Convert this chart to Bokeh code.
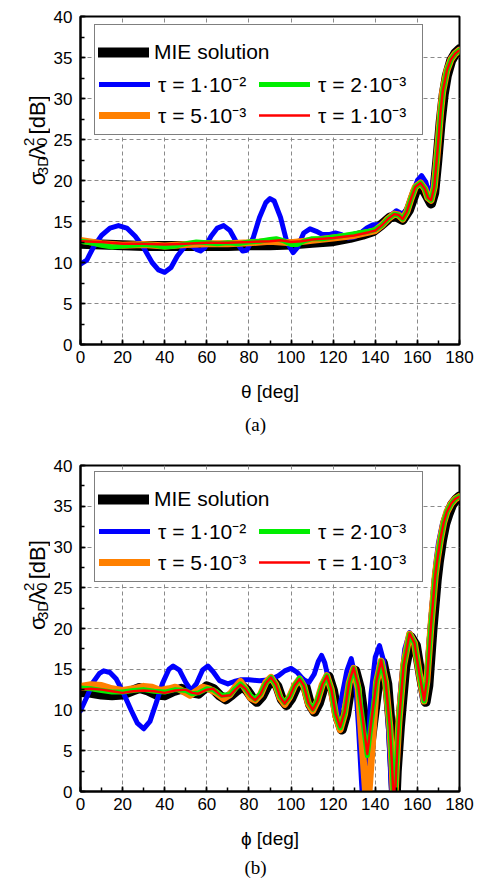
import math
from bokeh.plotting import figure
from bokeh.models import Range1d, SingleIntervalTicker, Legend, LegendItem, Label
from bokeh.layouts import column, row
from bokeh.embed import file_html
from bokeh.resources import INLINE

SANS = "Liberation Sans"
SERIF = "Liberation Serif"

# ---------------- data: (a) theta cut ----------------
a_theta_mie = [0, 10, 20, 30, 40, 50, 60, 70, 80, 90, 100, 110, 120, 128, 134, 139, 143, 147, 150, 153, 156, 159,
               161.5, 164, 166.5, 168, 169.5, 171, 172.5, 174, 176, 178, 180]
a_mie = [12.3, 12.2, 12.1, 12.0, 12.0, 12.0, 12.0, 12.0, 12.1, 12.1, 12.2, 12.4, 12.6, 13.0, 13.4, 13.8, 14.6, 15.5,
         15.6, 15.2, 16.4, 18.6, 19.4, 18.4, 17.2, 18.5, 22.5, 27.0, 30.5, 32.8, 34.6, 35.5, 36.0]

a_theta_blue = [0, 3, 6, 10, 14, 18, 22, 26, 30, 34, 37, 40, 43, 46, 50, 53, 55, 57, 59, 62, 65, 68, 71, 74, 77, 79,
                82, 85, 88, 90, 92, 95, 98, 101, 103, 106, 109, 112, 115, 118, 121, 124, 127, 130, 133, 136, 139, 142,
                145, 148, 150, 153, 156, 158, 160, 162, 164, 166, 168, 170, 172, 174, 176, 178, 180]
a_blue = [9.8, 10.3, 11.8, 13.3, 14.2, 14.5, 14.2, 13.2, 11.8, 10.0, 9.1, 8.8, 9.4, 10.8, 12.1, 12.0, 11.6, 11.4,
          11.8, 13.2, 14.2, 14.5, 13.9, 12.5, 11.4, 11.5, 13.0, 15.5, 17.3, 17.8, 17.5, 15.5, 12.5, 11.2, 11.8, 13.6,
          14.1, 13.8, 13.4, 13.4, 13.6, 13.4, 13.0, 13.1, 13.6, 14.2, 14.6, 14.6, 15.0, 15.9, 16.3, 15.9, 16.8, 18.6,
          20.0, 20.6, 19.8, 18.0, 20.5, 25.5, 30.5, 33.5, 35.0, 35.6, 36.0]

a_theta_green = [0, 5, 10, 15, 20, 25, 30, 35, 40, 45, 50, 55, 60, 65, 70, 75, 80, 85, 90, 93, 96, 100, 103, 106,
                 110, 115, 120, 125, 130, 137, 140, 143, 146, 149, 151, 153, 155, 157, 159, 161.5, 163.5, 165, 166.5,
                 168, 169, 170, 171, 172, 174, 176, 178, 180]
a_green = [12.6, 12.4, 12.1, 11.9, 12.0, 12.1, 12.2, 12.1, 11.9, 12.0, 12.3, 12.5, 12.4, 12.3, 12.4, 12.3, 12.5,
           12.6, 12.8, 12.9, 12.7, 12.2, 12.2, 12.6, 12.9, 12.9, 13.1, 13.3, 13.5, 13.8, 14.0, 14.5, 15.3, 15.9, 15.8,
           15.3, 16.2, 17.8, 19.2, 19.7, 19.0, 17.9, 17.6, 19.2, 22.0, 25.0, 28.3, 30.8, 33.4, 34.8, 35.5, 35.9]

a_theta_orange = [0, 10, 20, 30, 40, 50, 60, 70, 80, 90, 100, 110, 120, 130, 137, 140, 143, 146, 149, 151, 153, 155,
                  157, 159, 161.5, 163.5, 165, 166.5, 168, 169, 170, 171, 172, 174, 176, 178, 180]
a_orange = [12.7, 12.3, 12.1, 12.2, 12.0, 12.2, 12.3, 12.3, 12.4, 12.6, 12.4, 12.7, 13.0, 13.3, 13.7, 13.9, 14.5,
            15.3, 15.9, 15.8, 15.3, 16.2, 17.8, 19.2, 19.7, 19.0, 17.9, 17.6, 19.2, 22.0, 25.0, 28.3, 30.8, 33.4,
            34.8, 35.5, 35.9]

a_theta_red = [0, 10, 20, 30, 40, 50, 60, 70, 80, 90, 95, 100, 105, 110, 120, 130, 137, 140, 143, 146, 149, 151, 153,
               155, 157, 159, 161.5, 163.5, 165, 166.5, 168, 169, 170, 171, 172, 174, 176, 178, 180]
a_red = [12.6, 12.5, 12.3, 12.3, 12.2, 12.3, 12.4, 12.4, 12.5, 12.6, 12.7, 12.5, 12.6, 12.8, 13.0, 13.3, 13.7, 13.9,
         14.5, 15.3, 15.9, 15.8, 15.3, 16.2, 17.8, 19.2, 19.7, 19.0, 17.9, 17.6, 19.2, 22.0, 25.0, 28.3, 30.8, 33.4,
         34.8, 35.5, 35.9]

# ---------------- data: (b) phi cut ----------------
b_phi_mie = [0, 5, 10, 15, 20, 25, 28, 32, 36, 40, 44, 48, 52, 56, 60, 63, 66, 69, 72,
             74.3, 76.8, 79.1, 81.5, 83.8, 86.3, 88.8, 91.3, 93.5, 95.6,
             97.8, 100.1, 102.5, 104.8, 106.9, 109, 111.1, 113.3, 115.6, 117.8,
             119.9, 122, 124.1, 126.2, 128.4, 130.5, 132.7, 134.8, 137, 139.2,
             141.4, 143.6, 145.7, 147.5, 148.5, 149.3, 150.2, 151.7, 154.2, 157,
             159.3, 161.6, 163.9, 165.2, 166.2, 167.2, 168.2, 169.2, 170.2, 171.7,
             173.2, 174.7, 176.5, 178.3, 180]
b_mie = [12.2, 12.1, 11.9, 11.8, 11.9, 12.4, 12.7, 12.4, 11.9, 11.8, 12.3, 12.6, 12.2, 12.0, 12.9, 12.6, 11.8, 11.3,
         11.9,
         12.4, 12.9, 12.4, 11.5, 11.0, 11.7, 13.0, 13.6, 12.9, 11.3,
         10.6, 11.4, 12.8, 13.6, 12.8, 10.7, 9.8, 10.9, 12.9, 14.1,
         12.4, 9.3, 7.6, 9.5, 13.1, 14.8, 12.7, 8.7, 4.3, 8.9,
         13.3, 15.8, 13.2, 7.5, 2.5, -3.0, 2.5, 8.0, 15.2, 18.9,
         17.9, 14.2, 11.0, 13.0, 16.5, 20.0, 23.0, 26.0, 28.2, 30.8,
         32.8, 34.0, 35.2, 35.8, 36.2]

b_phi_blue = [0, 3, 6, 9, 11, 14, 17, 20, 24, 27, 30, 33, 36, 39, 42, 44, 47, 50, 52.5, 55, 58, 60.5, 63, 66, 70, 73,
              76, 80, 85, 90, 94, 97, 100, 103, 106, 108.5, 111, 113, 114.5, 116, 118, 120, 122, 124, 126.5, 128.6,
              130.5, 132, 133.5, 134.5, 136, 138, 140, 142, 144, 146, 147.5, 148.5, 150, 152, 154, 156.3, 158.5,
              160.5, 162.5, 164, 165, 166, 167, 168, 169, 170, 172, 174, 176, 178, 180]
b_blue = [9.9, 11.6, 13.4, 14.5, 14.8, 14.6, 13.8, 12.3, 10.0, 8.4, 7.7, 8.6, 10.9, 13.3, 15.0, 15.4, 14.9, 13.4,
          12.4, 13.2, 14.9, 15.4, 14.7, 13.6, 13.2, 13.5, 13.7, 13.7, 13.6, 13.7, 14.2, 14.8, 15.1, 14.6, 13.7, 13.4,
          14.4, 16.0, 16.7, 15.8, 13.5, 11.0, 9.2, 11.5, 14.8, 16.3, 14.0, 8.0, 1.0, -3.0, 3.0, 12.0, 16.5, 17.9,
          16.0, 9.0, 1.0, -3.0, 4.0, 12.5, 17.5, 19.5, 18.5, 15.5, 11.2, 13.5, 16.5, 20.0, 23.0, 26.0, 28.5, 30.5,
          33.0, 34.5, 35.4, 35.9, 36.2]

b_phi_red = [0, 5, 10, 15, 20, 25, 30, 35, 40, 45, 50, 53, 56, 60, 63, 67, 71,
             73.5, 76, 78.3, 80.7, 83, 85.5, 88, 90.5, 92.7, 94.8,
             97, 99.3, 101.7, 104, 106.1, 108.2, 110.3, 112.5, 114.8, 117,
             119.1, 121.2, 123.3, 125.4, 127.6, 129.7, 131.9, 134, 136.2, 138.4,
             140.6, 142.8, 144.9, 146.9, 148, 149, 150, 151.2, 153.5, 156.3,
             158.6, 160.9, 163.2, 164.5, 165.5, 166.5, 167.5, 168.5, 169.5, 171,
             172.5, 174, 176, 178, 180]
b_red = [12.5, 12.6, 12.5, 12.3, 12.1, 12.3, 12.4, 12.3, 12.1, 12.4, 12.5, 12.1, 12.0, 12.5, 12.6, 11.7, 11.8,
         12.5, 13.1, 12.6, 11.7, 11.2, 11.9, 13.3, 14.0, 13.2, 11.6,
         10.8, 11.6, 13.0, 13.8, 13.0, 10.9, 10.0, 11.1, 13.1, 14.2,
         12.6, 9.5, 7.9, 9.7, 13.4, 15.2, 13.0, 9.0, 4.6, 9.2,
         13.6, 16.1, 13.5, 8.0, 3.0, -3.0, 3.0, 8.5, 15.5, 19.4,
         18.2, 14.5, 11.2, 13.5, 17.0, 20.5, 23.5, 26.5, 28.5, 31.0,
         33.0, 34.3, 35.3, 35.9, 36.2]

b_phi_green = b_phi_red
b_green = [12.7, 12.6, 12.4, 12.2, 12.2, 12.4, 12.5, 12.3, 12.2, 12.5, 12.4, 12.0, 12.1, 12.6, 12.5, 11.8, 11.9,
           12.6, 13.2, 12.6, 11.8, 11.3, 12.0, 13.3, 14.0, 13.1, 11.6,
           10.9, 11.6, 13.0, 13.9, 13.0, 10.9, 10.1, 11.2, 13.1, 14.2,
           12.5, 9.4, 7.8, 9.6, 13.3, 15.1, 12.9, 8.8, 4.4, 9.0,
           13.5, 16.0, 13.4, 8.0, 3.0, -3.0, 3.0, 8.5, 15.5, 19.3,
           18.2, 14.5, 11.1, 13.5, 17.0, 20.5, 23.5, 26.5, 28.5, 31.0,
           33.0, 34.3, 35.3, 35.9, 36.2]

b_phi_orange = [0, 5, 10, 15, 20, 25, 30, 34, 38, 42, 45, 48, 52, 55, 58, 61, 64, 68, 71,
                73.5, 76, 78.3, 80.7, 83, 85.5, 88, 90.5, 92.7, 94.8,
                97, 99.3, 101.7, 104, 106.1, 108.2, 110.3, 112.5, 114.8, 117,
                119.1, 121.2, 123.3, 125.4, 127.6, 129.7, 131.9, 134, 136.2, 138.4,
                140.6, 142.8, 144.9, 146.9, 148, 149, 150, 151.2, 153.5, 156.3,
                158.6, 160.9, 163.2, 164.5, 165.5, 166.5, 167.5, 168.5, 169.5, 171,
                172.5, 174, 176, 178, 180]
b_orange = [12.9, 13.1, 13.0, 12.6, 12.4, 12.6, 12.9, 12.8, 12.4, 12.6, 12.8, 12.4, 11.8, 12.3, 12.8, 12.6, 12.2,
            11.4, 11.9,
            12.8, 13.5, 12.6, 11.5, 11.2, 11.9, 13.4, 14.0, 13.1, 11.5,
            10.7, 11.6, 13.0, 13.8, 12.9, 10.8, 9.9, 11.1, 13.1, 14.2,
            12.5, 9.3, 7.6, 9.5, 13.3, 15.1, 12.6, 5.0, -3.0, 5.0,
            13.4, 16.0, 13.4, 8.0, 3.0, -3.0, 3.0, 8.5, 15.5, 19.3,
            18.2, 14.5, 11.1, 13.5, 17.0, 20.5, 23.5, 26.5, 28.5, 31.0,
            33.0, 34.3, 35.3, 35.9, 36.2]

series_labels = ["MIE solution", "τ = 1·10⁻²", "τ = 2·10⁻³", "τ = 5·10⁻³", "τ = 1·10⁻³"]
x_labels = ["θ [deg]", "ϕ [deg]"]
captions = ["(a)", "(b)"]

# styles
COL = {"mie": "black", "blue": "#0000ff", "green": "#00ee00", "orange": "#ff8000", "red": "#ff0000"}
LW = {"mie": 10, "blue": 5, "green": 5, "orange": 7, "red": 2.5}
LABEL_W = 50


def blank_fig(w, h):
    f = figure(width=w, height=h, min_width=w, min_height=h,
               x_range=Range1d(0, w), y_range=Range1d(0, h),
               output_backend="svg", toolbar_location=None, x_axis_location=None, y_axis_location=None,
               min_border_left=0, min_border_right=0, min_border_top=0, min_border_bottom=0)
    f.outline_line_color = None
    f.grid.visible = False
    f.background_fill_color = "white"
    f.border_fill_color = "white"
    return f


def ylabel_fig(h, y0):
    # sigma_3D / lambda_0^2 [dB], rotated, built from pieces
    f = blank_fig(LABEL_W, h)
    base = 37
    big, small = "22px", "15px"
    pieces = [("σ", big, base, 12.7), ("3D", small, base + 4.5, 19.2), ("/", big, base, 6.1),
              ("λ", big, base, 11.3), ("0", small, base + 4.5, 0.0), ("2", small, base - 8.5, 8.5 + 6.1),
              ("[dB]", big, base, 0)]
    y = y0
    for txt, fs, bx, adv in pieces:
        f.add_layout(Label(x=bx, y=y, text=txt, angle=math.pi / 2,
                           text_font=SANS, text_font_size=fs, text_align="left", text_baseline="alphabetic",
                           text_color="black"))
        y += adv
    return f


def caption_fig(h, text, cy):
    f = blank_fig(478, h)
    f.add_layout(Label(x=255, y=cy, text=text, text_font=SERIF, text_font_size="19px",
                       text_align="center", text_baseline="middle", text_color="black"))
    return f


def make_fig(height, btop, bbot, xs, xlabel):
    w = 478 - LABEL_W
    p = figure(width=w, height=height, min_width=w, x_range=Range1d(0, 180), y_range=Range1d(0, 40),
               output_backend="svg", toolbar_location=None,
               min_border_left=79 - LABEL_W, min_border_right=19, min_border_top=btop, min_border_bottom=bbot)
    p.background_fill_color = "white"
    p.border_fill_color = "white"
    p.outline_line_color = "black"
    p.outline_line_width = 2
    p.xaxis.ticker = SingleIntervalTicker(interval=20, num_minor_ticks=2)
    p.yaxis.ticker = SingleIntervalTicker(interval=5, num_minor_ticks=2)
    for ax in (p.xaxis[0], p.yaxis[0]):
        ax.axis_line_width = 2
        ax.axis_line_color = "black"
        ax.major_tick_in = 5
        ax.major_tick_out = 0
        ax.minor_tick_in = 4
        ax.minor_tick_out = 0
        ax.major_tick_line_width = 1.5
        ax.minor_tick_line_width = 1.5
        ax.major_tick_line_color = "black"
        ax.minor_tick_line_color = "black"
        ax.major_label_text_font = SANS
        ax.major_label_text_font_size = "17px"
        ax.major_label_text_color = "black"
    p.xaxis.major_label_standoff = 6
    p.yaxis.major_label_standoff = 8
    p.xaxis.axis_label = xlabel
    p.xaxis.axis_label_text_font = SANS
    p.xaxis.axis_label_text_font_size = "19px"
    p.xaxis.axis_label_text_font_style = "normal"
    p.xaxis.axis_label_text_color = "black"
    p.xaxis.axis_label_standoff = 15
    for g in (p.xgrid[0], p.ygrid[0]):
        g.grid_line_color = "#8a8a8a"
        g.grid_line_dash = "4 3"
        g.grid_line_width = 1

    (mx, my), (bx_, by_), (gx, gy), (ox, oy), (rx, ry) = xs
    kw = dict(line_join="round", line_cap="round")
    r_mie = p.line(mx, my, line_color=COL["mie"], line_width=LW["mie"], **kw)
    r_blue = p.line(bx_, by_, line_color=COL["blue"], line_width=LW["blue"], **kw)
    r_orange = p.line(ox, oy, line_color=COL["orange"], line_width=LW["orange"], **kw)
    r_green = p.line(gx, gy, line_color=COL["green"], line_width=LW["green"], **kw)
    r_red = p.line(rx, ry, line_color=COL["red"], line_width=LW["red"], **kw)

    common = dict(glyph_width=51, glyph_height=20, label_height=30, padding=4,
                  label_text_font=SANS, label_text_font_size="21px", label_text_color="black")
    legA = Legend(items=[LegendItem(label=series_labels[1], renderers=[r_blue]),
                         LegendItem(label=series_labels[2], renderers=[r_green]),
                         LegendItem(label=series_labels[3], renderers=[r_orange]),
                         LegendItem(label=series_labels[4], renderers=[r_red])],
                  orientation="horizontal", ncols=2, location=(14, 209), spacing=1, label_width=100,
                  label_standoff=8, title=" ", title_text_font_size="20px", title_standoff=17,
                  border_line_color="black", border_line_width=1, background_fill_color="white",
                  background_fill_alpha=1.0, **common)
    legB = Legend(items=[LegendItem(label=series_labels[0], renderers=[r_mie])],
                  location=(14, 273), label_standoff=5, border_line_alpha=0, background_fill_alpha=0,
                  **common)
    p.add_layout(legA)
    p.add_layout(legB)
    return p


H1, C1, H2, C2 = 412, 33, 410, 23
p1 = make_fig(H1, 16, 68,
              [(a_theta_mie, a_mie), (a_theta_blue, a_blue), (a_theta_green, a_green),
               (a_theta_orange, a_orange), (a_theta_red, a_red)], x_labels[0])
p2 = make_fig(H2, 20, 64,
              [(b_phi_mie, b_mie), (b_phi_blue, b_blue), (b_phi_green, b_green),
               (b_phi_orange, b_orange), (b_phi_red, b_red)], x_labels[1])

layout = column(
    row(ylabel_fig(H1, H1 - 212), p1, spacing=0),
    caption_fig(C1, captions[0], 21),
    row(ylabel_fig(H2, H2 - 207), p2, spacing=0),
    caption_fig(C2, captions[1], 11),
    spacing=0)
open("out.html", "w").write(file_html(layout, INLINE))
